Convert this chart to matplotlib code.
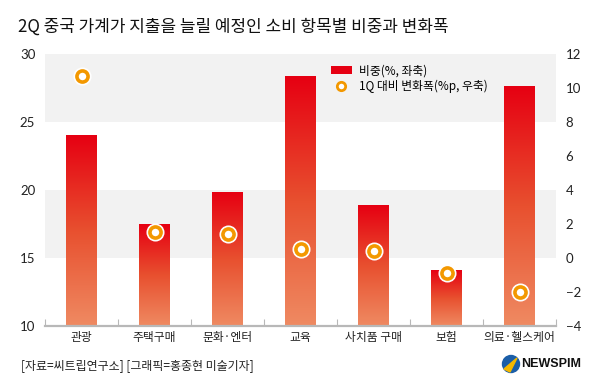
import numpy as np
import matplotlib
matplotlib.use("Agg")
import matplotlib.pyplot as plt
from matplotlib.colors import LinearSegmentedColormap
from matplotlib.patches import Patch, Ellipse, Polygon
from matplotlib.lines import Line2D

plt.rcParams['font.family'] = ['Noto Sans CJK KR', 'DejaVu Sans']

# data
categories = ["관광", "주택구매", "문화·엔터", "교육", "사치품 구매", "보험", "의료·헬스케어"]
share = [24.0, 17.5, 19.8, 28.4, 18.9, 14.1, 27.6]          # 비중 (%, left axis)
change = [10.7, 1.5, 1.4, 0.5, 0.4, -0.9, -2.0]              # 1Q 대비 변화폭 (%p, right axis)
left_ticks = [10, 15, 20, 25, 30]
right_ticks = [-4, -2, 0, 2, 4, 6, 8, 10, 12]

title = "2Q 중국 가계가 지출을 늘릴 예정인 소비 항목별 비중과 변화폭"
source = "[자료=씨트립연구소] [그래픽=홍종현 미술기자]"

RED = "#E60012"
SALMON = "#EF8A62"
ORANGE = "#F39800"
BAND = "#F2F2F2"

fig = plt.figure(figsize=(6, 3.9), dpi=100)
ax = fig.add_axes([45 / 600, 1 - 325.7 / 390, 511 / 600, (325.7 - 54) / 390])
ax2 = ax.twinx()

x = np.arange(len(categories))

# shaded bands
ax.axhspan(25, 30, color=BAND, lw=0, zorder=0)
ax.axhspan(15, 20, color=BAND, lw=0, zorder=0)

# bars with vertical gradient
cmap = LinearSegmentedColormap.from_list("bar", [SALMON, "#E8502F", RED])
grad = np.linspace(0, 1, 256).reshape(-1, 1)
bars = ax.bar(x, share, width=0.42, color="none", linewidth=0, zorder=3)
for b in bars:
    x0, w = b.get_x(), b.get_width()
    top = b.get_height()
    ax.imshow(grad, cmap=cmap, origin="lower", aspect="auto",
              extent=(x0, x0 + w, left_ticks[0], top), zorder=2)
ax.set_xlim(-0.5, len(categories) - 0.5)
ax.set_ylim(left_ticks[0], left_ticks[-1])
ax2.set_ylim(right_ticks[0], right_ticks[-1])

# markers (white halo + orange ring)
ax2.plot(x, change, ls="none", marker="o", ms=12, mfc="white", mec="white", zorder=5)
ax2.plot(x, change, ls="none", marker="o", ms=8, mfc="white", mec=ORANGE, mew=2.6, zorder=6)

# axes styling
for a in (ax, ax2):
    for s in a.spines.values():
        s.set_visible(False)
ax.spines["bottom"].set_visible(True)
ax.spines["bottom"].set_color("#B8B8B8")
ax.spines["bottom"].set_linewidth(1.6)
ax2.patch.set_visible(False)

ax.set_xticks(x)
ax.set_xticklabels(categories, fontsize=8.5, color="#222222")
ax.tick_params(axis="x", which="major", length=0, pad=4)
ax.set_xticks(np.arange(-0.5, len(categories)), minor=True)
ax.tick_params(axis="x", which="minor", direction="in", length=5, color="#B8B8B8", width=0.8)

ax.set_yticks(left_ticks)
ax.tick_params(axis="y", length=0, pad=7, labelsize=9.5, labelcolor="#222222")
ax2.set_yticks(right_ticks)
ax2.tick_params(axis="y", length=0, pad=7, labelsize=9.5, labelcolor="#222222")
for lab in ax.get_yticklabels() + ax2.get_yticklabels():
    lab.set_family(["Lato", "DejaVu Sans"])

# legend
handles = [Patch(facecolor=RED, edgecolor="none"),
           Line2D([], [], ls="none", marker="o", ms=6, mfc="white", mec=ORANGE, mew=2)]
ax2.legend(handles, ["비중(%, 좌축)", "1Q 대비 변화폭(%p, 우축)"],
           loc="upper left", bbox_to_anchor=(0.55, 0.98), frameon=False,
           fontsize=8.5, handlelength=1.8, handletextpad=0.6, labelspacing=0.25,
           borderaxespad=0)

# title & footer
fig.text(18 / 600, 1 - 27 / 390, title, fontsize=12.2, va="center", ha="left", color="#111111")
fig.text(21 / 600, 1 - 366 / 390, source, fontsize=8.6, va="center", ha="left", color="#222222")

# simple logo
lx, ly = 511 / 600, 1 - 364 / 390
fig.patches.append(Ellipse((lx, ly), 17 / 600, 17 / 390, transform=fig.transFigure, color="#1B5EA8"))
fig.patches.append(Polygon([(lx - 7 / 600, ly - 5 / 390), (lx + 6 / 600, ly + 6 / 390),
                            (lx - 1 / 600, ly - 8 / 390)],
                           transform=fig.transFigure, color="#F5B800"))
fig.text(521 / 600, ly, "NEWSPIM", fontsize=9, fontweight="bold", va="center", ha="left",
         family=["Liberation Sans", "DejaVu Sans"], color="#111111")

fig.savefig("out.png", dpi=100)
